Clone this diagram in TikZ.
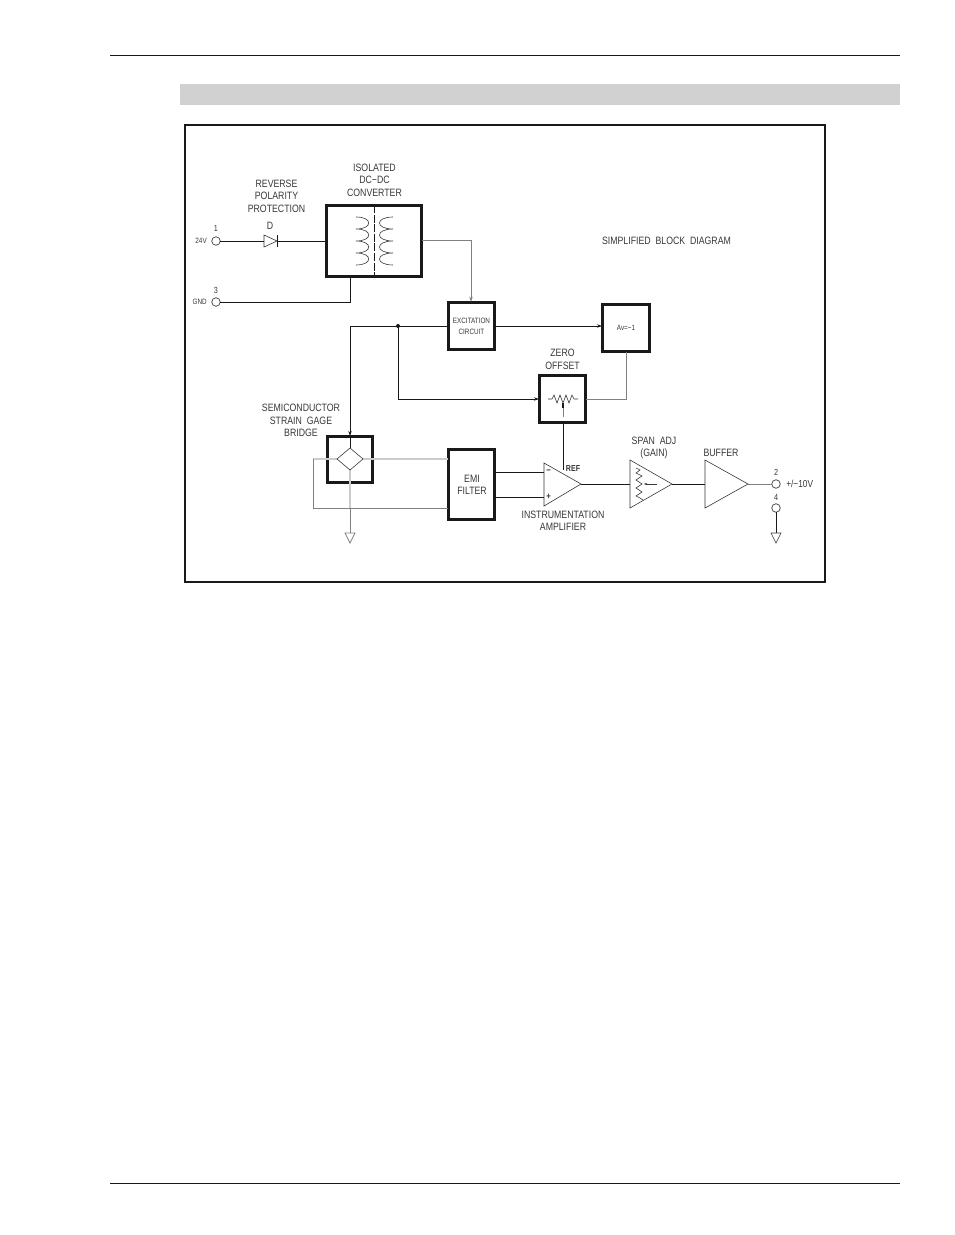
\documentclass[tikz,border=0pt]{standalone}
\usepackage{fontspec}
\setmainfont[FakeStretch=0.82]{Liberation Sans}
\usetikzlibrary{arrows.meta,calc}
\definecolor{ink}{gray}{0.1}
\definecolor{midg}{gray}{0.5}
\definecolor{lightg}{gray}{0.8}
\definecolor{txt}{gray}{0.22}
\tikzset{
  bsize/.style 2 args={minimum width=#1*0.75pt,minimum height=#2*0.75pt},
  blk/.style={draw=ink,line width=2.6pt,fill=white,inner sep=0pt,outer sep=0pt},
  wire/.style={draw=ink,line width=0.75pt},
  gwire/.style={draw=midg,line width=0.6pt},
  lwire/.style={draw=lightg,line width=1.3pt},
  thin part/.style={draw=txt,line width=0.45pt},
  tip/.style={-{Stealth[length=4pt,width=2.6pt]}},
  lab/.style={font=\fontsize{8}{9.4}\selectfont,text=txt,align=center,inner sep=0pt},
  tiny/.style={font=\fontsize{5.8}{8.2}\selectfont,text=txt,align=center,inner sep=0pt},
  digit/.style={font=\fontsize{6.6}{8}\selectfont,text=txt,align=center,inner sep=0pt},
  term/.style={circle,draw=txt,line width=0.5pt,fill=white,minimum size=6.4pt,inner sep=0pt,outer sep=0pt},
  dotn/.style={circle,fill=ink,minimum size=3pt,inner sep=0pt,outer sep=0pt}
}
\begin{document}
\begin{tikzpicture}[x=0.75pt,y=-0.75pt]
\useasboundingbox (0,0) rectangle (954,1235);
\fill[white] (0,0) rectangle (954,1235);
% page furniture
\coordinate (rt1) at (110,55); \coordinate (rt2) at (900,55);
\coordinate (rb1) at (110,1183); \coordinate (rb2) at (900,1183);
\draw[draw=ink,line width=0.7pt] (rt1) -- (rt2);
\draw[draw=ink,line width=0.7pt] (rb1) -- (rb2);
\fill[black!18] (180,84) rectangle (900,105);
\draw[draw=ink,line width=1.2pt] (185,125) rectangle (825,582);

% terminals
\node[term] (t1) at (216,241) {};
\node[term] (t3) at (216,302) {};
\node[term] (t2) at (776,484) {};
\node[term] (t4) at (776,508) {};

% blocks
\node[blk,bsize={95.5}{71.5}] (dc) at (374,241) {};
\node[blk,bsize={46.5}{47.5}] (exc) at (471.5,326) {};
\node[blk,bsize={47.5}{47.5}] (inv) at (626,328) {};
\node[blk,bsize={46.5}{47.5}] (zero) at (562.5,399) {};
\node[blk,bsize={45.5}{46.5}] (bridge) at (350,459.5) {};
\node[blk,bsize={46.5}{70.5}] (emi) at (471.5,484.5) {};

% named points
\coordinate (dA) at (264,241);
\coordinate (dB) at (277,241);
\coordinate (dot) at (398,326);
\coordinate (brTop) at (350,448);
\coordinate (brBot) at (350,470);
\coordinate (brL) at (337,459);
\coordinate (brR) at (363,459);
\coordinate (loopA) at (313,459);
\coordinate (loopB) at (313,508);
\coordinate (g1) at (350,533);
\coordinate (g2) at (776,533);
\coordinate (ampTip) at (581,484);
\coordinate (spanIn) at (630,484);
\coordinate (spanTip) at (672,484);
\coordinate (bufIn) at (705,484);
\coordinate (bufTip) at (748,484);
\coordinate (ref) at (563,470);

% gray bridge wiring
\draw[lwire] (loopA) -- (bridge.west |- loopA);
\draw[lwire] (brL) -- (bridge.west |- brL);
\draw[lwire] (brR) -- (emi.west |- brR);
\draw[gwire] (loopA) -- (loopB) -- (emi.west |- loopB);
\draw[lwire] (brBot) -- (350,508);
\draw[gwire] (350,508) -- (g1);

% black wiring
\draw[wire] (t1) -- (dA);
\draw[wire] (dB) -- (dc.west |- dB);
\draw[wire] (t3) -- (350,302) -- (350,277);
\draw[wire,tip] (exc.west |- dot) -- (350,326) -- (bridge.north);
\draw[wire] (bridge.north) -- (brTop);
\draw[wire,tip] (dot) |- (zero.west);
\node[dotn] (dotnode) at (dot) {};
\draw[wire,tip] (exc.east |- dot) -- (inv.west |- dot);
\draw[wire] (emi.east |- 544,472) -- (544,472);
\draw[wire] (emi.east |- 544,497) -- (544,497);
\draw[wire] (ampTip) -- (spanIn);
\draw[wire] (spanTip) -- (bufIn);

% gray wiring
\draw[gwire,tip] (dc.east |- 0,240) -- (471,240) -- (471,302);
\draw[gwire] (inv.south) |- (zero.east);
\draw[gwire] (bufTip) -- (t2);
\draw[draw=ink,line width=0.6pt] (t4) -- (g2);

% diode
\draw[thin part,fill=white] (dA) ++(0,-6) -- (dB) -- (264,247) -- cycle;
\draw[draw=ink,line width=0.7pt] (277,235) -- (277,247);

% transformer
\draw[draw=ink,line width=0.75pt,dash pattern=on 6pt off 1.2pt] (374,205) -- (374,277);
\draw[thin part] (356,217)
  .. controls (373,217) and (373,229) .. (356,229)
  .. controls (373,229) and (373,241) .. (356,241)
  .. controls (373,241) and (373,253) .. (356,253)
  .. controls (373,253) and (373,265) .. (356,265);
\draw[thin part] (393,217)
  .. controls (375,217) and (375,229) .. (393,229)
  .. controls (375,229) and (375,241) .. (393,241)
  .. controls (375,241) and (375,253) .. (393,253)
  .. controls (375,253) and (375,265) .. (393,265);

% bridge diamond and grounds
\draw[thin part] (brTop) -- (brR) -- (brBot) -- (brL) -- cycle;
\draw[gwire,fill=white] (g1) ++(-5,0) -- ++(10,0) -- ++(-5,10) -- cycle;
\draw[thin part,fill=white] (g2) ++(-5,0) -- ++(10,0) -- ++(-5,10) -- cycle;

% zero-offset pot
\draw[thin part] (548,399) -- (552,399) -- (554,395) -- (557,403) -- (560,395) -- (563,403) -- (566,395) -- (569,403) -- (572,395) -- (574,399) -- (578,399);
\draw[draw=midg,line width=0.7pt] (563,417) -- (563,404);
\draw[draw=ink,line width=0.8pt] (563,408) -- (563,403);

% amplifiers
\draw[thin part,fill=white] (544,463) -- (ampTip) -- (544,506) -- cycle;
\draw[thin part,fill=white] (630,460) -- (spanTip) -- (630,508) -- cycle;
\draw[thin part,fill=white] (705,460) -- (bufTip) -- (705,508) -- cycle;
\draw[wire] (zero.south -| ref) -- (ref);
\draw[thin part] (636,468) -- (640,470) -- (636,473) -- (642,476) -- (636,480) -- (642,484) -- (636,488) -- (642,492) -- (636,496) -- (640,498) -- (643,500);
\draw[draw=txt,line width=0.35pt,-{Stealth[length=2.5pt,width=1.8pt]}] (657,484) -- (644,484);

% labels
\node[lab] (lRev) at (276.5,196) {REVERSE\\POLARITY\\PROTECTION};
\node[lab] (lD) at (270,226) {D};
\node[lab] (lIso) at (374.5,180) {ISOLATED\\DC−DC\\CONVERTER};
\node[digit] (n1) at (216,228) {1};
\node[digit] (n3) at (216,290) {3};
\node[tiny,anchor=east] (l24) at (207,241) {24V};
\node[tiny,anchor=east] (lGnd) at (207,302) {GND};
\node[tiny] (lExc) at (471.5,326.5) {EXCITATION\\CIRCUIT};
\node[tiny] (lAv) at (626,328) {Av=−1};
\node[lab] (lSbd) at (666.5,241) {SIMPLIFIED\ \ BLOCK\ \ DIAGRAM};
\node[lab] (lZero) at (562.5,359.5) {ZERO\\OFFSET};
\node[lab] (lSemi) at (301,420.5) {SEMICONDUCTOR\\STRAIN\ \ GAGE\\BRIDGE};
\node[lab] (lEmi) at (472,485) {EMI\\FILTER};
\node[tiny,font=\fontsize{6.5}{8}\selectfont\bfseries] (lRef) at (573,469) {REF};
\node[tiny,font=\fontsize{7}{8}\selectfont\bfseries] (lMinus) at (548.5,472) {−};
\node[tiny,font=\fontsize{7}{8}\selectfont\bfseries] (lPlus) at (548.5,497) {+};
\node[lab] (lInst) at (563,521) {INSTRUMENTATION\\AMPLIFIER};
\node[lab] (lSpan) at (654,448) {SPAN\ \ ADJ\\(GAIN)};
\node[lab] (lBuf) at (721,453) {BUFFER};
\node[digit] (n2) at (776,472) {2};
\node[digit] (n4) at (776,497) {4};
\node[lab,font=\fontsize{7.6}{8}\selectfont,anchor=west] (lOut) at (786,484) {+/−10V};
\end{tikzpicture}
\end{document}
